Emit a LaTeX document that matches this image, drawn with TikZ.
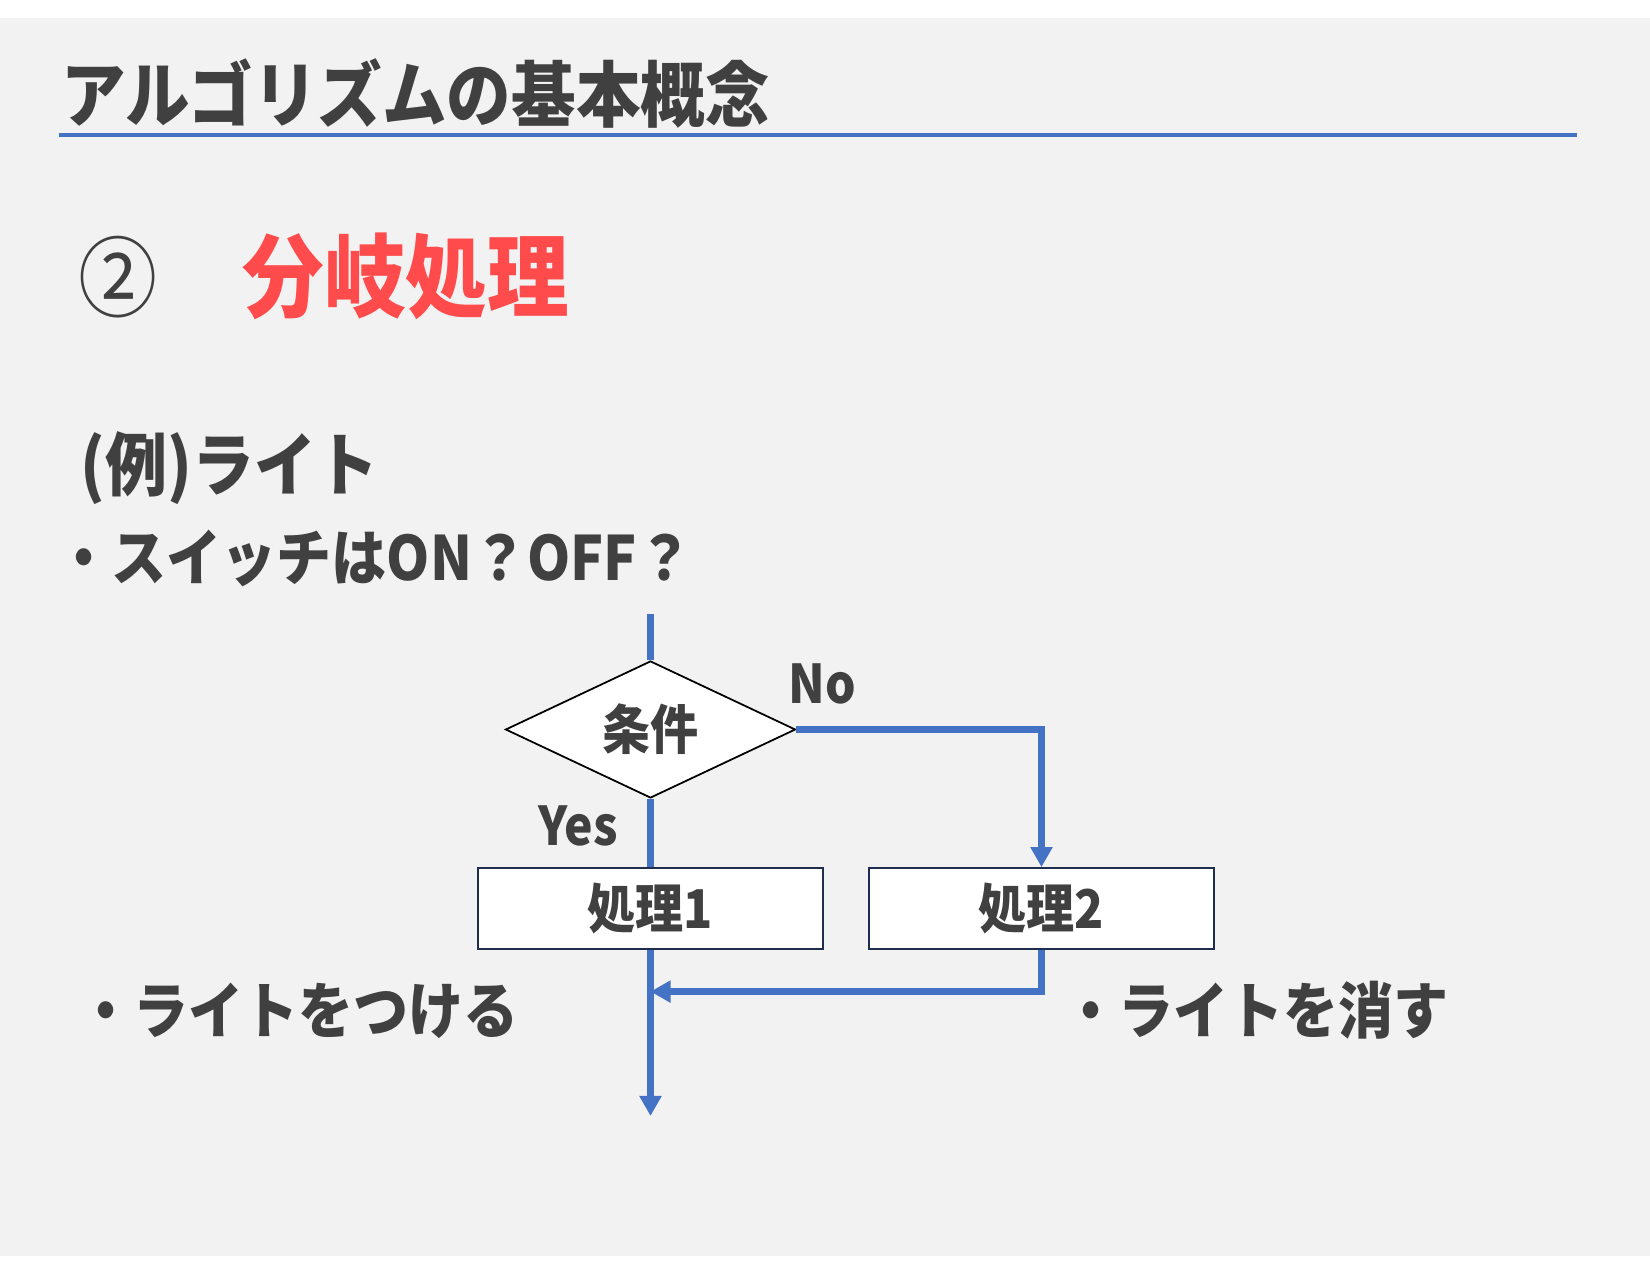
\documentclass[tikz,border=0pt]{standalone}
\usepackage{fontspec}
\setmainfont{Noto Sans CJK JP}[FakeStretch=0.9]
\usetikzlibrary{shapes.geometric,arrows.meta}
\definecolor{slidebg}{HTML}{F2F2F2}
\definecolor{ink}{HTML}{404040}
\definecolor{accent}{HTML}{4472C4}
\definecolor{hot}{HTML}{FF4B4B}
\definecolor{boxline}{HTML}{1F2D4F}
\newcommand{\fs}[1]{\fontsize{#1}{#1}\selectfont}

\begin{document}
\begin{tikzpicture}[
  txt/.style={anchor=west,inner sep=0,text=ink,font=\fs{17.4pt}\bfseries},
  flow/.style={draw=accent,line width=1.9pt},
  tip/.style={-{Triangle[length=0.2cm,width=0.21cm]}},
  proc/.style={draw=boxline,fill=white,line width=0.5pt,minimum width=3.45cm,minimum height=0.81cm,inner sep=0,text=ink,font=\fs{15.2pt}\bfseries},
  cond/.style={diamond,draw=black,fill=white,line width=0.5pt,minimum width=2.9cm,minimum height=1.37cm,aspect=2,inner sep=0,text=ink,font=\fs{15.2pt}\bfseries},
  lbl/.style={inner sep=0,text=ink,font=\fs{15.2pt}\bfseries}]
  \useasboundingbox (0,0) rectangle (16.5,12.75);
  \fill[slidebg] (0,0.19) rectangle (16.5,12.57);

  % heading
  \node[txt,font=\fs{20.4pt}\bfseries] (Title) at (0.61,11.82) {アルゴリズムの基本概念};
  \coordinate (RuleL) at (0.59,11.40);
  \coordinate (RuleR) at (15.77,11.40);
  \draw[accent,line width=1.1pt] (RuleL) -- (RuleR);
  \node[txt,font=\fs{25pt}\mdseries] (Num) at (0.78,9.98) {②};
  \node[txt,text=hot,font=\fs{25.8pt}\bfseries] (Head) at (2.42,9.99) {分岐処理};
  \node[txt,font=\fs{19.6pt}\bfseries] (Ex) at (0.80,8.07) {(例)ライト};
  \node[txt] (Sw) at (0.56,7.17) {・スイッチはON？OFF？};

  % flowchart
  \coordinate (Top) at (6.505,6.61);
  \node[cond] (Cond) at (6.505,5.455) {条件};
  \node[proc] (P1) at (6.505,3.665) {処理1};
  \node[proc] (P2) at (10.415,3.665) {処理2};
  \coordinate (Join) at (6.505,2.834);
  \coordinate (End) at (6.505,1.59);
  \node[lbl] (No) at (8.22,5.91) {No};
  \node[lbl] (Yes) at (5.78,4.49) {Yes};
  \draw[flow] (Top) -- (Cond.north);
  \draw[flow] (Cond.south) -- (P1.north);
  \draw[flow,tip] (Cond.east) -| (P2.north);
  \draw[flow,tip] (P2.south) |- (Join);
  \draw[flow,tip] (P1.south) -- (End);

  \node[txt] (On) at (0.78,2.645) {・ライトをつける};
  \node[txt] (Off) at (10.63,2.645) {・ライトを消す};
\end{tikzpicture}
\end{document}
